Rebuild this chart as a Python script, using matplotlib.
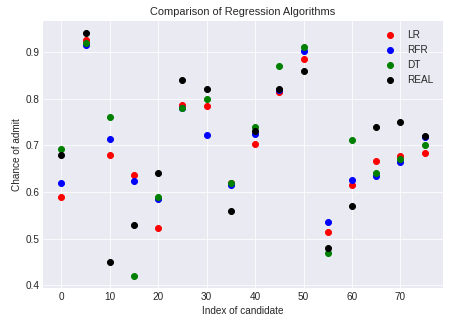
import matplotlib
matplotlib.use('Agg')
import matplotlib.pyplot as plt

plt.style.use('seaborn-v0_8-darkgrid')
plt.rcParams['font.family'] = ['Liberation Sans', 'DejaVu Sans']

# candidate index and predictions per model
idx = [0, 5, 10, 15, 20, 25, 30, 35, 40, 45, 50, 55, 60, 65, 70, 75]
lr = [0.589, 0.925, 0.679, 0.637, 0.522, 0.787, 0.783, 0.618, 0.703, 0.814,
      0.885, 0.513, 0.614, 0.667, 0.676, 0.683]
rfr = [0.620, 0.914, 0.714, 0.624, 0.585, 0.779, 0.722, 0.615, 0.725, 0.818,
       0.901, 0.536, 0.626, 0.634, 0.665, 0.718]
dt = [0.691, 0.920, 0.760, 0.420, 0.589, 0.780, 0.800, 0.620, 0.740, 0.869,
      0.910, 0.470, 0.711, 0.640, 0.670, 0.700]
real = [0.68, 0.94, 0.45, 0.53, 0.64, 0.84, 0.82, 0.56, 0.73, 0.82,
        0.86, 0.48, 0.57, 0.74, 0.75, 0.72]

fig = plt.figure(figsize=(6.25, 4.5), dpi=72)
ax = fig.add_subplot(111)
fig.subplots_adjust(left=0.096, right=0.984, top=0.935, bottom=0.111)

ax.scatter(idx, lr, color='red', label='LR')
ax.scatter(idx, rfr, color='blue', label='RFR')
ax.scatter(idx, dt, color='green', label='DT')
ax.scatter(idx, real, color='black', label='REAL')

ax.set_title('Comparison of Regression Algorithms', fontsize=11)
ax.set_xlabel('Index of candidate')
ax.set_ylabel('Chance of admit')
ax.legend(loc='upper right')

fig.savefig('out.png')
